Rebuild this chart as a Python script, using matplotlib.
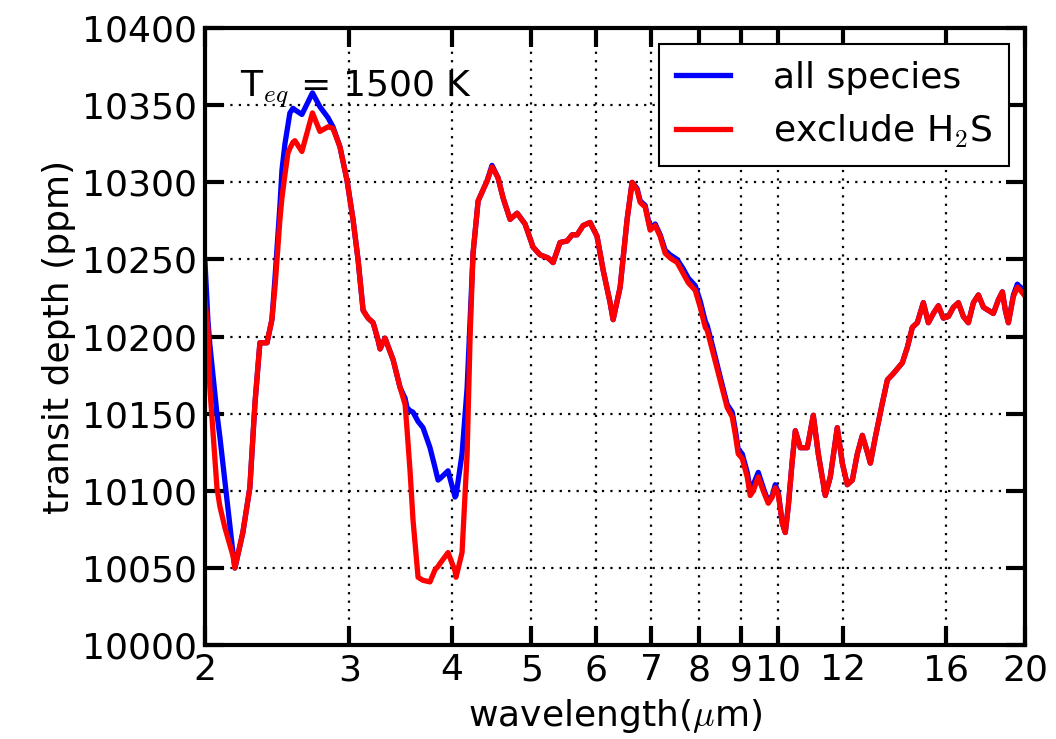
import matplotlib
matplotlib.use('Agg')
from matplotlib import pyplot as plt
from matplotlib.ticker import NullLocator

plt.rcParams['font.family'] = ['DejaVu Sans']
plt.rcParams['mathtext.fontset'] = 'cm'

# wavelength grid (micron)
wavelength = [
    2.000, 2.017, 2.028, 2.069, 2.086, 2.116, 2.164, 2.176, 2.225, 2.269,
    2.302, 2.334, 2.381, 2.414, 2.435, 2.469, 2.483, 2.504, 2.525, 2.539,
    2.561, 2.575, 2.626, 2.705, 2.762, 2.825, 2.865, 2.922, 2.981, 3.031,
    3.074, 3.118, 3.162, 3.207, 3.251, 3.270, 3.316, 3.392, 3.459, 3.508,
    3.527, 3.557, 3.587, 3.638, 3.689, 3.762, 3.816, 3.848, 3.870, 3.957,
    4.036, 4.047, 4.116, 4.175, 4.210, 4.245, 4.306, 4.416, 4.477, 4.553,
    4.618, 4.710, 4.804, 4.912, 5.024, 5.123, 5.240, 5.314, 5.419, 5.528,
    5.606, 5.685, 5.781, 5.896, 6.012, 6.116, 6.236, 6.289, 6.414, 6.541,
    6.633, 6.727, 6.785, 6.881, 6.978, 7.077, 7.177, 7.278, 7.381, 7.528,
    7.655, 7.764, 7.919, 8.031, 8.145, 8.191, 8.330, 8.492, 8.662, 8.785,
    8.859, 8.934, 9.035, 9.163, 9.240, 9.319, 9.451, 9.584, 9.720, 9.830,
    9.913, 9.997, 10.111, 10.196, 10.282, 10.399, 10.487, 10.635, 10.846, 11.029,
    11.185, 11.407, 11.568, 11.797, 11.965, 12.134, 12.306, 12.480, 12.657, 12.837,
    12.946, 13.129, 13.389, 13.579, 13.805, 14.159, 14.360, 14.563, 14.769, 15.020,
    15.233, 15.448, 15.667, 15.887, 16.112, 16.340, 16.571, 16.806, 17.044, 17.286,
    17.530, 17.779, 18.031, 18.282, 18.545, 18.751, 18.907, 19.069, 19.339, 19.554,
    19.721, 20.000]

# transit depth (ppm), all species
depth_all = [
    10250, 10211, 10195, 10150, 10135, 10106, 10060, 10050, 10073, 10102,
    10157, 10196, 10196, 10211, 10238, 10285, 10308, 10325, 10337, 10345,
    10348, 10347, 10344, 10358, 10349, 10342, 10336, 10323, 10301, 10276,
    10250, 10217, 10212, 10209, 10198, 10192, 10199, 10185, 10167, 10160,
    10154, 10152, 10151, 10145, 10141, 10128, 10115, 10107, 10108, 10113,
    10096, 10097, 10124, 10167, 10211, 10254, 10288, 10301, 10311, 10303,
    10290, 10276, 10280, 10273, 10258, 10253, 10251, 10248, 10261, 10262,
    10266, 10266, 10272, 10274, 10265, 10243, 10222, 10211, 10232, 10276,
    10300, 10296, 10288, 10285, 10270, 10273, 10266, 10256, 10253, 10250,
    10244, 10238, 10233, 10223, 10210, 10207, 10192, 10174, 10156, 10151,
    10140, 10127, 10124, 10112, 10101, 10104, 10112, 10102, 10093, 10097,
    10104, 10099, 10079, 10073, 10090, 10120, 10139, 10128, 10128, 10149,
    10124, 10097, 10109, 10141, 10118, 10104, 10107, 10124, 10136, 10125,
    10118, 10135, 10157, 10172, 10176, 10183, 10193, 10206, 10209, 10222,
    10209, 10215, 10220, 10212, 10213, 10219, 10222, 10213, 10209, 10222,
    10227, 10219, 10217, 10215, 10224, 10229, 10217, 10209, 10227, 10234,
    10232, 10230]

# transit depth (ppm), H2S removed
depth_no_h2s = [
    10224, 10205, 10167, 10102, 10090, 10076, 10058, 10050, 10073, 10102,
    10157, 10196, 10196, 10211, 10232, 10276, 10290, 10305, 10319, 10322,
    10326, 10327, 10320, 10345, 10333, 10336, 10335, 10323, 10301, 10276,
    10250, 10217, 10212, 10209, 10198, 10192, 10199, 10185, 10167, 10156,
    10140, 10113, 10081, 10044, 10042, 10041, 10049, 10051, 10053, 10060,
    10048, 10044, 10060, 10124, 10200, 10254, 10288, 10301, 10310, 10303,
    10290, 10276, 10280, 10273, 10258, 10253, 10251, 10248, 10261, 10262,
    10266, 10266, 10272, 10274, 10265, 10243, 10222, 10211, 10232, 10276,
    10300, 10295, 10287, 10284, 10269, 10272, 10265, 10254, 10251, 10248,
    10241, 10235, 10230, 10219, 10206, 10204, 10189, 10172, 10154, 10148,
    10137, 10124, 10121, 10109, 10097, 10100, 10109, 10100, 10092, 10096,
    10102, 10098, 10079, 10073, 10090, 10120, 10139, 10128, 10128, 10149,
    10124, 10097, 10109, 10141, 10118, 10104, 10107, 10124, 10136, 10125,
    10118, 10135, 10157, 10172, 10176, 10183, 10193, 10206, 10209, 10222,
    10209, 10215, 10220, 10212, 10213, 10219, 10222, 10213, 10209, 10222,
    10227, 10219, 10217, 10215, 10224, 10229, 10217, 10209, 10226, 10232,
    10230, 10226]

xticks = [2, 3, 4, 5, 6, 7, 8, 9, 10, 12, 16, 20]
xtick_labels = ['2', '3', '4', '5', '6', '7', '8', '9', '10', '12', '16', '20']
yticks = [10000, 10050, 10100, 10150, 10200, 10250, 10300, 10350, 10400]

fig = plt.figure(figsize=(10.56, 7.39), dpi=100)
ax = fig.add_axes([0.194, 0.127, 0.777, 0.835])

ax.plot(wavelength, depth_all, color='blue', lw=3.8, label='all species')
ax.plot(wavelength, depth_no_h2s, color='red', lw=3.8, label=r'exclude H$_2$S')

ax.set_xscale('log')
ax.set_xlim(2, 20)
ax.set_ylim(10000, 10400)
ax.set_xticks(xticks)
ax.set_xticklabels(xtick_labels)
ax.xaxis.set_minor_locator(NullLocator())
ax.set_yticks(yticks)
ax.tick_params(which='major', direction='in', length=14, width=3,
               top=True, right=True, labelsize=26, pad=6)
ax.grid(True, color='black', linestyle=(0, (1, 2.8)), linewidth=1.6)
for sp in ax.spines.values():
    sp.set_linewidth(3)

ax.set_xlabel(r'wavelength($\mu$m)', fontsize=26, labelpad=7)
ax.set_ylabel('transit depth (ppm)', fontsize=26, labelpad=4)

ax.text(0.043, 0.888, r'T$_{eq}$ = 1500 K', transform=ax.transAxes,
        fontsize=26, va='baseline')

leg = ax.legend(loc='upper right', fontsize=26, fancybox=False, framealpha=1,
                edgecolor='black', handlelength=1.5, handletextpad=1.2,
                borderaxespad=0.45, labelspacing=0.5, borderpad=0.45)
leg.get_frame().set_linewidth(1.5)

fig.savefig('out.png', dpi=100)
